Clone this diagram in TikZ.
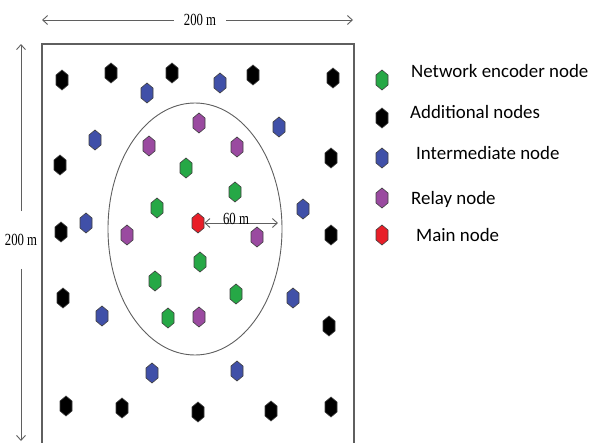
\documentclass[tikz,border=0pt]{standalone}
\usepackage{fontspec}
\setmainfont{Liberation Serif}
\newfontfamily\dimfont[FakeStretch=0.75]{Liberation Serif}
\newfontfamily\legendfont{Carlito}
\usetikzlibrary{shapes.symbols, shapes.geometric, arrows.meta}

\definecolor{encgreen}{RGB}{38,168,70}
\definecolor{intblue}{RGB}{64,80,168}
\definecolor{relpurple}{RGB}{154,74,160}
\definecolor{mainred}{RGB}{232,30,40}
\definecolor{edgegray}{RGB}{95,95,95}

\tikzset{
  hexnode/.style={shape=signal, signal to=north and south, signal pointer angle=100,
    draw=black!75, line width=0.6pt, minimum width=12pt, minimum height=10pt, inner sep=0pt},
  encnode/.style={hexnode, fill=encgreen},
  addnode/.style={hexnode, fill=black},
  intnode/.style={hexnode, fill=intblue},
  relnode/.style={hexnode, fill=relpurple},
  mainnode/.style={hexnode, fill=mainred},
  dimline/.style={draw=edgegray, line width=0.9pt, -{Straight Barb[length=5pt, width=9pt]}},
  dimlabel/.style={font=\dimfont\fontsize{17}{17}\selectfont, inner sep=0pt},
  legendtext/.style={anchor=west, font=\legendfont\fontsize{18.9}{18.9}\selectfont, inner sep=0pt}
}

\begin{document}
\begin{tikzpicture}[x=1pt, y=-1pt]
    \useasboundingbox (0,0) rectangle (592,442);
    \clip (0,0) rectangle (592,442);

    % Field and range
    \draw[edgegray, line width=1.1pt] (42,44) rectangle (354,470);
    \node[draw=edgegray, line width=0.9pt, ellipse, minimum width=174pt, minimum height=252pt, inner sep=0pt] (range) at (195,229) {};

    % Dimensions
    \node[dimlabel, inner xsep=10pt] (wlab) at (200,20) {200 m};
    \coordinate (wl) at (42,20);
    \coordinate (wr) at (353,20);
    \draw[dimline] (wlab) -- (wl);
    \draw[dimline] (wlab) -- (wr);
    \node[dimlabel, inner ysep=23pt] (hlab) at (21,240) {200 m};
    \coordinate (ht) at (21,44);
    \coordinate (hb) at (21,441);
    \draw[dimline] (hlab) -- (ht);
    \draw[dimline] (hlab) -- (hb);

    % Nodes
    \foreach \i/\p in {1/{62,80}, 2/{111,73}, 3/{172,73}, 4/{253,75}, 5/{333,78},
        6/{60,165}, 7/{331,158}, 8/{61,232}, 9/{331,235}, 10/{63,298}, 11/{329,326},
        12/{66,406}, 13/{122,408}, 14/{198,412}, 15/{271,411}, 16/{331,407}}
        \node[addnode] (add\i) at (\p) {};
    \foreach \i/\p in {1/{147,93}, 2/{220,83}, 3/{95,140}, 4/{279,127}, 5/{86,223},
        6/{303,209}, 7/{102,316}, 8/{293,298}, 9/{152,373}, 10/{237,371}}
        \node[intnode] (int\i) at (\p) {};
    \foreach \i/\p in {1/{199,123}, 2/{149,146}, 3/{237,147}, 4/{127,235}, 5/{257,237}, 6/{199,317}}
        \node[relnode] (rel\i) at (\p) {};
    \foreach \i/\p in {1/{186,168}, 2/{235,192}, 3/{157,208}, 4/{200,262}, 5/{155,281},
        6/{236,294}, 7/{168,318}}
        \node[encnode] (enc\i) at (\p) {};
    \node[mainnode] (main) at (198,223) {};

    % Radius
    \coordinate (redge) at (278,223);
    \draw[dimline, {Straight Barb[length=5pt, width=9pt]}-{Straight Barb[length=5pt, width=9pt]}] (main) -- (redge);
    \node[dimlabel] (rlab) at (236,219) {60 m};

    % Legend
    \node[encnode] (kenc) at (382,80) {};
    \node[addnode] (kadd) at (382,118) {};
    \node[intnode] (kint) at (382,158) {};
    \node[relnode] (krel) at (382,198) {};
    \node[mainnode] (kmain) at (382,235) {};
    \node[legendtext] (tenc) at (411,71) {Network encoder node};
    \node[legendtext] (tadd) at (410,112) {Additional nodes};
    \node[legendtext] (tint) at (416,153) {Intermediate node};
    \node[legendtext] (trel) at (411,199) {Relay node};
    \node[legendtext] (tmain) at (416,235) {Main node};
\end{tikzpicture}
\end{document}
